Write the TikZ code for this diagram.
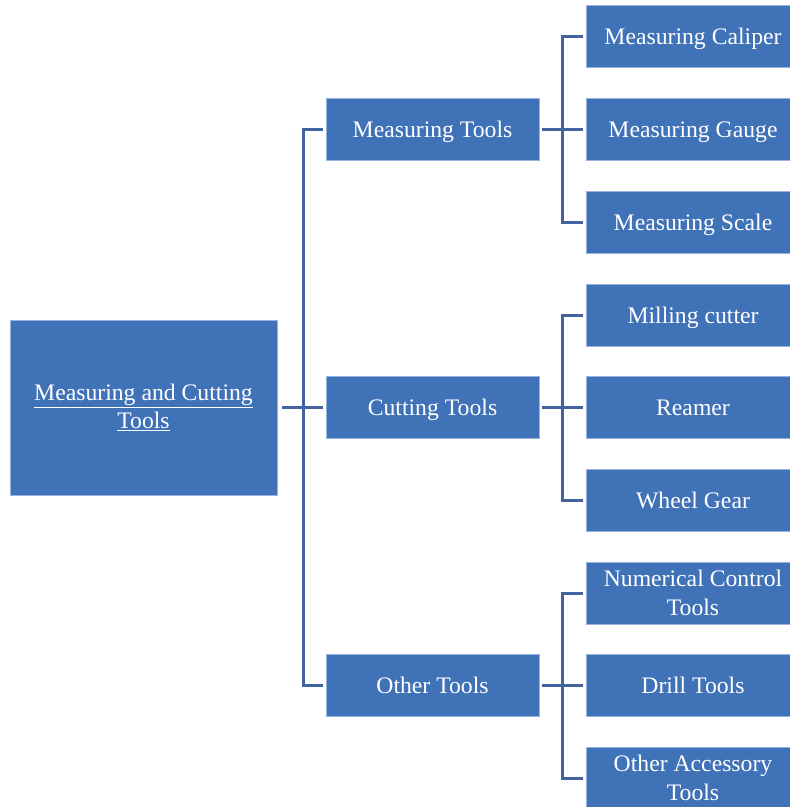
\documentclass[tikz,border=0pt]{standalone}
\usepackage{fontspec}
\setmainfont{Liberation Serif}
\definecolor{boxblue}{RGB}{64,114,184}
\definecolor{boxedge}{RGB}{150,180,225}
\definecolor{linkblue}{RGB}{65,100,160}
\begin{document}
\begin{tikzpicture}[x=1pt,y=-1pt,
  box/.style={rectangle, fill=boxblue, draw=boxedge, line width=0.8pt,
    text=white, align=center, inner sep=0pt,
    font=\fontsize{23.7}{28.5}\selectfont},
  oneline/.style={text height=20pt, text depth=4pt},
  rootbox/.style={box, minimum width=267pt, minimum height=175pt},
  midbox/.style={box, oneline, minimum width=213pt, minimum height=62pt},
  leafbox/.style={box, minimum width=214pt, minimum height=62pt},
  leafone/.style={leafbox, oneline},
  link/.style={draw=linkblue, line width=3pt, line join=miter}]
\useasboundingbox (0,0) rectangle (790,807);
\fill[white] (0,0) rectangle (790,807);
\begin{scope}
\clip (0,0) rectangle (790,807);

% root
\node[rootbox] (root) at (143.5,407.5)
  {\underline{Measuring and Cutting}\\\underline{Tools}};

% second level
\node[midbox] (m1) at (432.5,129) {Measuring Tools};
\node[midbox] (m2) at (432.5,407) {Cutting Tools};
\node[midbox] (m3) at (432.5,685.5) {Other Tools};

% leaves
\node[leafone] (l1) at (693,36)  {Measuring Caliper};
\node[leafone] (l2) at (693,129) {Measuring Gauge};
\node[leafone] (l3) at (693,222) {Measuring Scale};
\node[leafone] (l4) at (693,315) {Milling cutter};
\node[leafone] (l5) at (693,407) {Reamer};
\node[leafone] (l6) at (693,500) {Wheel Gear};
\node[leafbox] (l7) at (693,593) {Numerical Control\\Tools};
\node[leafone] (l8) at (693,685.5) {Drill Tools};
\node[leafbox] (l9) at (693,778) {Other Accessory\\Tools};

% bus points
\coordinate (rb) at (303,407);
\coordinate (c1) at (562,129);
\coordinate (c2) at (562,407);
\coordinate (c3) at (562,685.5);

% root to second level
\draw[link] ([xshift=5pt]root.east) -- (root.east -| rb);
\draw[link] ([xshift=-3pt]m1.west) -| (rb) |- ([xshift=-3pt]m3.west);
\draw[link] (rb) -- ([xshift=-3pt]m2.west);

% second level to leaves
\draw[link] ([xshift=3pt]m1.east) -- ([xshift=-3pt]l2.west);
\draw[link] ([xshift=-3pt]l1.west) -| (c1) |- ([xshift=-3pt]l3.west);
\draw[link] ([xshift=3pt]m2.east) -- ([xshift=-3pt]l5.west);
\draw[link] ([xshift=-3pt]l4.west) -| (c2) |- ([xshift=-3pt]l6.west);
\draw[link] ([xshift=3pt]m3.east) -- ([xshift=-3pt]l8.west);
\draw[link] ([xshift=-3pt]l7.west) -| (c3) |- ([xshift=-3pt]l9.west);
\end{scope}
\end{tikzpicture}
\end{document}
